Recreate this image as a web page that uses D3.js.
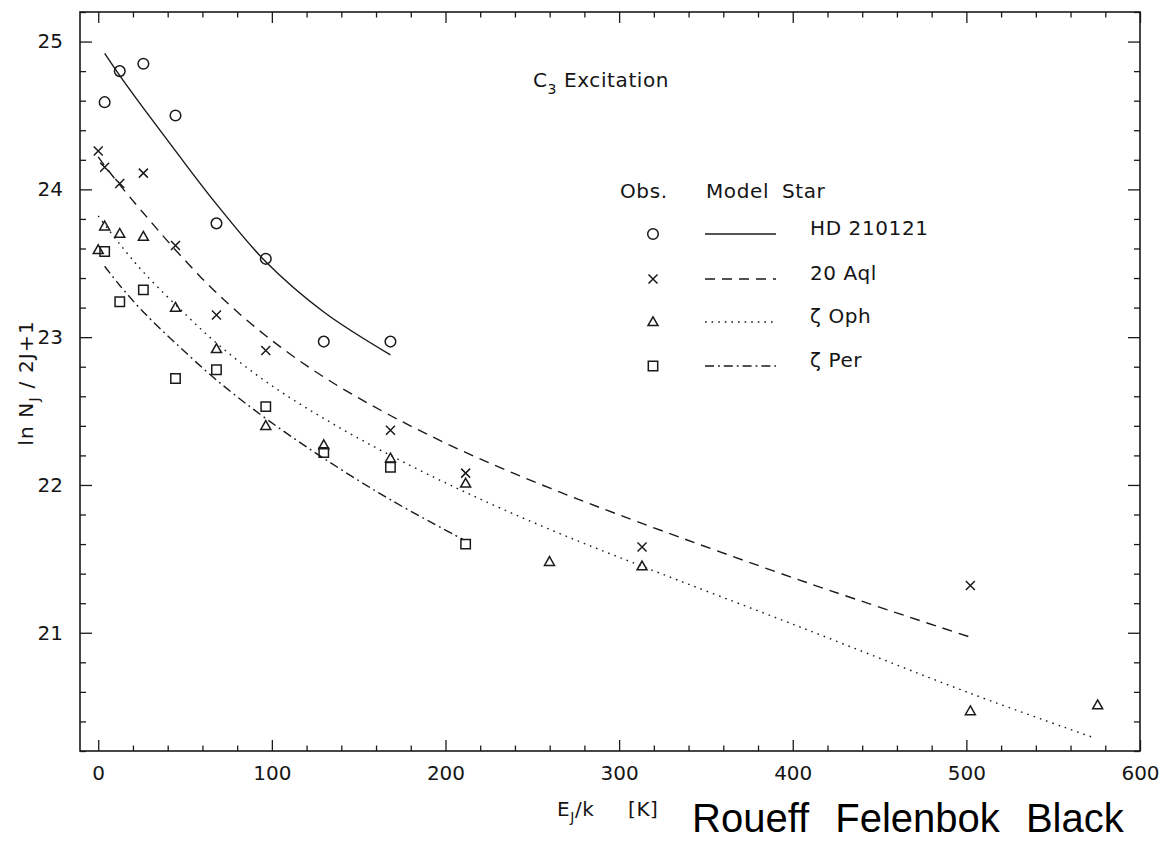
<!DOCTYPE html>
<html>
<head>
<meta charset="utf-8">
<script src="https://cdn.jsdelivr.net/npm/d3@7"></script>
<style>
  body { margin: 0; background: #fff; }
  svg text { font-family: "DejaVu Sans", sans-serif; fill: #151515; }
</style>
</head>
<body>
<svg id="chart" width="1164" height="841"></svg>
<script>
// observed points, E_J/k in K and ln N_J/(2J+1)
const hdE  = [3.7, 12.4, 26.0, 44.5, 68.1, 96.5, 129.9, 168.3];
const hdObs = [24.59, 24.80, 24.85, 24.50, 23.77, 23.53, 22.97, 22.97];

const aqlE  = [0, 3.7, 12.4, 26.0, 44.5, 68.1, 96.5, 168.3, 211.6, 313.2, 502.3];
const aqlObs = [24.26, 24.15, 24.04, 24.11, 23.62, 23.15, 22.91, 22.37, 22.08, 21.58, 21.32];

const ophE  = [0, 3.7, 12.4, 26.0, 44.5, 68.1, 96.5, 129.9, 168.3, 211.6, 259.9, 313.2, 502.3, 575.6];
const ophObs = [23.59, 23.75, 23.70, 23.68, 23.20, 22.92, 22.40, 22.27, 22.18, 22.01, 21.48, 21.45, 20.47, 20.51];

const perE  = [3.7, 12.4, 26.0, 44.5, 68.1, 96.5, 129.9, 168.3, 211.6];
const perObs = [23.58, 23.24, 23.32, 22.72, 22.78, 22.53, 22.22, 22.12, 21.60];

// model curves
const hdModelE = [3.7, 12.4, 26.0, 44.5, 68.1, 96.5, 129.9, 168.3];
const hdModel  = [24.92, 24.77, 24.55, 24.26, 23.90, 23.51, 23.17, 22.88];

const aqlModelE = [0, 3.7, 12.4, 26.0, 44.5, 68.1, 96.5, 129.9, 168.3, 211.6, 259.9, 313.2, 408, 502.3];
const aqlModel  = [24.22, 24.16, 24.03, 23.84, 23.59, 23.30, 23.01, 22.73, 22.47, 22.22, 21.98, 21.74, 21.34, 20.97];

const ophModelE = [0, 12.4, 26.0, 44.5, 68.1, 96.5, 129.9, 168.3, 211.6, 259.9, 313.2, 404, 502.3, 573.4];
const ophModel  = [23.82, 23.63, 23.44, 23.22, 22.96, 22.70, 22.45, 22.20, 21.95, 21.70, 21.45, 21.04, 20.59, 20.29];

const perModelE = [3.7, 12.4, 26.0, 44.5, 68.1, 96.5, 129.9, 168.3, 210.3];
const perModel  = [23.48, 23.35, 23.17, 22.96, 22.71, 22.45, 22.18, 21.90, 21.63];

const xMajor = [0, 100, 200, 300, 400, 500, 600];
const yMajor = [21, 22, 23, 24, 25];
const starNames = ["HD 210121", "20 Aql", "\u03b6 Oph", "\u03b6 Per"];

const W = 1164, H = 841;
const plotL = 80, plotR = 1140, plotT = 12, plotB = 751;
const ink = "#1a1a1a";

const svg = d3.select("#chart");
svg.append("rect").attr("width", W).attr("height", H).attr("fill", "#fff");

const x = d3.scaleLinear().domain([-10.5, 600]).range([plotL, plotR]);
const y = d3.scaleLinear().domain([20.2, 25.2]).range([plotB, plotT]);

const xMinor = d3.range(20, 600, 20).filter(v => v % 100 !== 0);
const yMinor = d3.range(20.2, 25.21, 0.2).map(v => +v.toFixed(1)).filter(v => Math.abs(v - Math.round(v)) > 0.01);

// axes, ticks pointing inwards on all four sides
function styleAxis(g) {
  g.select(".domain").remove();
  g.attr("color", ink);
  g.selectAll(".tick line").attr("stroke-width", 1.3);
  g.selectAll("text").attr("font-size", 20).attr("fill", "#151515");
}

svg.append("g").attr("transform", `translate(0,${plotB})`)
  .call(d3.axisBottom(x).tickValues(xMajor).tickSize(-11).tickPadding(15).tickFormat(d3.format("d")))
  .call(styleAxis);
svg.append("g").attr("transform", `translate(0,${plotB})`)
  .call(d3.axisBottom(x).tickValues(xMinor).tickSize(-5.5).tickFormat(""))
  .call(styleAxis);
svg.append("g").attr("transform", `translate(0,${plotT})`)
  .call(d3.axisTop(x).tickValues(xMajor).tickSize(-11).tickFormat(""))
  .call(styleAxis);
svg.append("g").attr("transform", `translate(0,${plotT})`)
  .call(d3.axisTop(x).tickValues(xMinor).tickSize(-5.5).tickFormat(""))
  .call(styleAxis);

svg.append("g").attr("transform", `translate(${plotL},0)`)
  .call(d3.axisLeft(y).tickValues(yMajor).tickSize(-12).tickPadding(17).tickFormat(d3.format("d")))
  .call(styleAxis);
svg.append("g").attr("transform", `translate(${plotL},0)`)
  .call(d3.axisLeft(y).tickValues(yMinor).tickSize(-6).tickFormat(""))
  .call(styleAxis);
svg.append("g").attr("transform", `translate(${plotR},0)`)
  .call(d3.axisRight(y).tickValues(yMajor).tickSize(-12).tickFormat(""))
  .call(styleAxis);
svg.append("g").attr("transform", `translate(${plotR},0)`)
  .call(d3.axisRight(y).tickValues(yMinor).tickSize(-6).tickFormat(""))
  .call(styleAxis);

svg.append("rect")
  .attr("x", plotL).attr("y", plotT)
  .attr("width", plotR - plotL).attr("height", plotB - plotT)
  .attr("fill", "none").attr("stroke", ink).attr("stroke-width", 1.6);

// marker shapes
const markers = {
  circle: "M5.3,0A5.3,5.3 0 1,1 -5.3,0A5.3,5.3 0 1,1 5.3,0Z",
  cross: "M-4.5,-4.5L4.5,4.5M-4.5,4.5L4.5,-4.5",
  triangle: "M0,-5.2L5,3.6L-5,3.6Z",
  square: "M-4.7,-4.7H4.7V4.7H-4.7Z"
};
const dashes = ["none", "10,7", "1.6,5", "9,4,1.8,4"];

const series = [
  { obsE: hdE,  obs: hdObs,  modE: hdModelE,  mod: hdModel,  mark: "circle" },
  { obsE: aqlE, obs: aqlObs, modE: aqlModelE, mod: aqlModel, mark: "cross" },
  { obsE: ophE, obs: ophObs, modE: ophModelE, mod: ophModel, mark: "triangle" },
  { obsE: perE, obs: perObs, modE: perModelE, mod: perModel, mark: "square" }
];

const line = d3.line()
  .x(d => x(d[0]))
  .y(d => y(d[1]))
  .curve(d3.curveCatmullRom.alpha(0.5));

series.forEach((s, i) => {
  svg.append("path")
    .datum(d3.zip(s.modE, s.mod))
    .attr("d", line)
    .attr("fill", "none")
    .attr("stroke", ink)
    .attr("stroke-width", 1.4)
    .attr("stroke-dasharray", dashes[i]);

  svg.selectAll(".pt" + i)
    .data(d3.zip(s.obsE, s.obs))
    .enter()
    .append("path")
    .attr("class", "pt" + i)
    .attr("transform", d => `translate(${x(d[0])},${y(d[1])})`)
    .attr("d", markers[s.mark])
    .attr("fill", "none")
    .attr("stroke", ink)
    .attr("stroke-width", 1.5);
});

// title
const title = svg.append("text").attr("x", 533).attr("y", 87).attr("font-size", 20).attr("letter-spacing", 0.6);
title.append("tspan").text("C");
title.append("tspan").attr("dy", 7).attr("font-size", 14).text("3");
title.append("tspan").attr("dy", -7).text(" Excitation");

// legend
const legendX = { obs: 653, model: 705, star: 810 };
const legendY = [234, 279, 322, 366];
svg.append("text").attr("x", 620).attr("y", 198).attr("font-size", 20).attr("letter-spacing", 0.6).text("Obs.");
svg.append("text").attr("x", 706).attr("y", 198).attr("font-size", 20).attr("letter-spacing", 0.6).text("Model");
svg.append("text").attr("x", 782).attr("y", 198).attr("font-size", 20).attr("letter-spacing", 0.6).text("Star");

series.forEach((s, i) => {
  svg.append("path")
    .attr("transform", `translate(${legendX.obs},${legendY[i]})`)
    .attr("d", markers[s.mark])
    .attr("fill", "none").attr("stroke", ink).attr("stroke-width", 1.5);
  svg.append("line")
    .attr("x1", legendX.model).attr("x2", legendX.model + 71)
    .attr("y1", legendY[i]).attr("y2", legendY[i])
    .attr("stroke", ink).attr("stroke-width", 1.4)
    .attr("stroke-dasharray", dashes[i]);
  svg.append("text")
    .attr("x", legendX.star).attr("y", legendY[i] + 1)
    .attr("font-size", 20).attr("letter-spacing", 0.6)
    .text(starNames[i]);
});

// axis titles
const xt = svg.append("text").attr("x", 557).attr("y", 816).attr("font-size", 20).attr("letter-spacing", 0.6);
xt.append("tspan").text("E");
xt.append("tspan").attr("dy", 6).attr("font-size", 14).text("J");
xt.append("tspan").attr("dy", -6).text("/k");
xt.append("tspan").attr("x", 628).text("[K]");

const yt = svg.append("text")
  .attr("transform", "translate(33,383) rotate(-90)")
  .attr("text-anchor", "middle").attr("font-size", 20).attr("letter-spacing", 1.2);
yt.append("tspan").text("ln N");
yt.append("tspan").attr("dy", 6).attr("font-size", 14).text("J");
yt.append("tspan").attr("dy", -6).text(" / 2J+1");

// credit line at the bottom edge
svg.append("text")
  .attr("x", 692).attr("y", 832)
  .style("font-family", "'Liberation Sans', Arial, sans-serif")
  .style("fill", "#000")
  .attr("font-size", 40)
  .attr("word-spacing", 15)
  .text("Roueff Felenbok Black");
</script>
</body>
</html>
